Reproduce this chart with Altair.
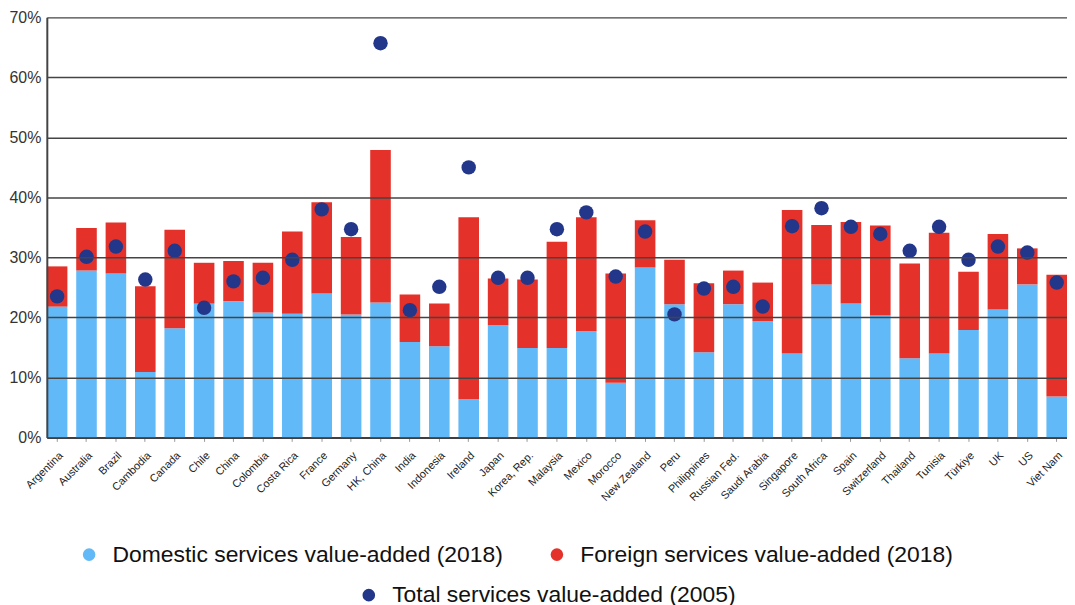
import altair as alt
import pandas as pd

countries = ["Argentina", "Australia", "Brazil", "Cambodia", "Canada", "Chile", "China",
             "Colombia", "Costa Rica", "France", "Germany", "HK, China", "India", "Indonesia",
             "Ireland", "Japan", "Korea, Rep.", "Malaysia", "Mexico", "Morocco", "New Zealand",
             "Peru", "Philippines", "Russian Fed.", "Saudi Arabia", "Singapore", "South Africa",
             "Spain", "Switzerland", "Thailand", "Tunisia", "Türkiye", "UK", "US", "Viet Nam"]

domestic_2018 = [21.8, 27.8, 27.3, 10.9, 18.2, 22.3, 22.7, 20.8, 20.6, 24.0, 20.5, 22.5, 15.9, 15.2,
                 6.4, 18.7, 14.9, 14.9, 17.7, 9.1, 28.3, 22.2, 14.2, 22.2, 19.4, 14.0, 25.5,
                 22.3, 20.3, 13.2, 14.0, 17.9, 21.3, 25.5, 6.8]
total_2018 = [28.5, 34.9, 35.8, 25.2, 34.6, 29.1, 29.4, 29.1, 34.3, 39.2, 33.4, 47.9, 23.8, 22.3,
              36.7, 26.5, 26.3, 32.6, 36.7, 27.3, 36.2, 29.6, 25.7, 27.8, 25.8, 37.9, 35.4,
              35.9, 35.3, 29.0, 34.1, 27.6, 33.9, 31.5, 27.1]
total_2005 = [23.5, 30.1, 31.8, 26.3, 31.1, 21.6, 26.0, 26.6, 29.6, 38.0, 34.7, 65.7, 21.2, 25.1,
              45.0, 26.6, 26.6, 34.7, 37.5, 26.8, 34.3, 20.5, 24.8, 25.1, 21.8, 35.2, 38.2,
              35.1, 33.9, 31.1, 35.1, 29.6, 31.8, 30.8, 25.8]

dom_label = "Domestic services value-added (2018)"
for_label = "Foreign services value-added (2018)"
tot_label = "Total services value-added (2005)"

blue = "#62B9F7"
red = "#E4322A"
navy = "#22368A"

rows = []
for c, d, t in zip(countries, domestic_2018, total_2018):
    rows.append({"country": c, "series": dom_label, "value": d / 100, "ord": 0})
    rows.append({"country": c, "series": for_label, "value": (t - d) / 100, "ord": 1})
bars_df = pd.DataFrame(rows)
pts_df = pd.DataFrame({"country": countries, "series": [tot_label] * len(countries),
                       "value": [v / 100 for v in total_2005]})

FONT = "Liberation Sans"

x_enc = alt.X("country:N", sort=countries, title=None,
              scale=alt.Scale(paddingInner=0.3, paddingOuter=0.0),
              axis=alt.Axis(labelAngle=-45, labelFontSize=11, labelColor="#222",
                            labelFont=FONT, tickSize=4, tickColor="#999",
                            domainColor="#333", domainWidth=2, labelPadding=8))

bars = alt.Chart(bars_df).mark_bar().encode(
    x=x_enc,
    y=alt.Y("value:Q", stack="zero", title=None,
            scale=alt.Scale(domain=[0, 0.7], nice=False),
            axis=alt.Axis(format=".0%", values=[0, 0.1, 0.2, 0.3, 0.4, 0.5, 0.6, 0.7],
                          labelFontSize=16, labelColor="#333", labelFont=FONT,
                          ticks=False, labelPadding=6, gridColor="#444", gridWidth=1.5,
                          domainColor="#444", domainWidth=2, zindex=1)),
    color=alt.Color("series:N", scale=alt.Scale(domain=[dom_label, for_label], range=[blue, red]),
                    legend=alt.Legend(orient="none", legendX=31, legendY=528, direction="horizontal",
                                      title=None, symbolType="circle", symbolSize=160,
                                      labelFontSize=23, labelFont=FONT, labelColor="#111",
                                      columnPadding=42, labelOffset=12, symbolStrokeWidth=0,
                                      labelLimit=500)),
    order=alt.Order("ord:Q", sort="ascending"),
)

points = alt.Chart(pts_df).mark_circle(size=210, opacity=1).encode(
    x=alt.X("country:N", sort=countries),
    y=alt.Y("value:Q"),
    color=alt.Color("series:N", scale=alt.Scale(domain=[tot_label], range=[navy]),
                    legend=alt.Legend(orient="none", legendX=312, legendY=569, direction="horizontal",
                                      title=None, symbolType="circle", symbolSize=160,
                                      labelFontSize=23, labelFont=FONT, labelColor="#111",
                                      labelOffset=12, symbolStrokeWidth=0, labelLimit=500)),
)

chart = alt.layer(bars, points).resolve_scale(color="independent").properties(
    width=1025, height=422, padding={"left": 0, "top": 0, "right": 0, "bottom": 0}
).configure_view(stroke=None)

chart.save("out.html", embed_options={"renderer": "svg", "actions": False})
